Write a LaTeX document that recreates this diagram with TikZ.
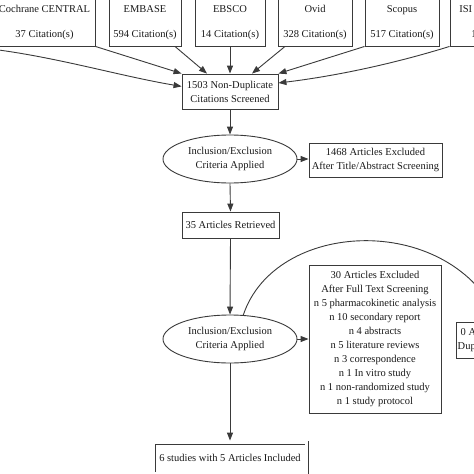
\documentclass[tikz,border=0pt]{standalone}
\usepackage{fontspec}
\setmainfont{Liberation Serif}
\usetikzlibrary{shapes.geometric,arrows.meta,calc}
\definecolor{linec}{HTML}{3A3A3A}
\definecolor{textc}{HTML}{1A1A1A}
\newcommand{\fsz}{\fontsize{10.5}{14}\selectfont}
\tikzset{
  box/.style={draw=linec, line width=0.9pt, rectangle, inner sep=0pt, align=center, font=\fsz, text=textc},
  oval/.style={draw=linec, line width=0.9pt, ellipse, inner sep=0pt, align=center, font=\fsz, text=textc, minimum width=134pt, minimum height=48pt},
  arr/.style={draw=linec, line width=0.9pt, -{Triangle[length=8pt,width=6pt]}},
  lbl/.style={inner sep=0pt, align=left, font=\fsz, text=textc}
}
\begin{document}
\begin{tikzpicture}[x=1pt,y=-1pt]
\useasboundingbox (0,0) rectangle (474,474);
\fill[white] (0,0) rectangle (474,474);
\clip (0,0) rectangle (474,474);
% sources
\node[box, minimum width=101pt, minimum height=47pt] (coch) at (44.5,22.5) {Cochrane CENTRAL\\[11pt]37 Citation(s)};
\node[box, minimum width=72pt, minimum height=47pt] (emb) at (145,22.5) {EMBASE\\[11pt]594 Citation(s)};
\node[box, minimum width=70pt, minimum height=47pt] (ebs) at (230,22.5) {EBSCO\\[11pt]14 Citation(s)};
\node[box, minimum width=74pt, minimum height=47pt] (ovid) at (315,22.5) {Ovid\\[11pt]328 Citation(s)};
\node[box, minimum width=74pt, minimum height=47pt] (scop) at (402,22.5) {Scopus\\[11pt]517 Citation(s)};
\node[box, minimum width=106pt, minimum height=47pt] (isi) at (503,22.5) {ISI - Web of Science\\[11pt]150 Citation(s)};
\coordinate (offl) at (-5,49.5);
% main column
\node[box, minimum width=96pt, minimum height=35pt] (nd) at (230,91.5) {1503 Non-Duplicate\\Citations Screened};
\node[oval] (e1) at (230,159) {Inclusion/Exclusion\\Criteria Applied};
\node[box, minimum width=133pt, minimum height=34pt] (x1) at (375.5,160) {1468 Articles Excluded\\After Title/Abstract Screening};
\node[box, minimum width=97pt, minimum height=26pt] (r35) at (230.5,225) {35 Articles Retrieved};
\node[oval] (e2) at (230,339) {Inclusion/Exclusion\\Criteria Applied};
\node[box, minimum width=132pt, minimum height=148pt] (x2) at (375,339) {30 Articles Excluded\\After Full Text Screening\\n 5 pharmacokinetic analysis\\n 10 secondary report\\n 4 abstracts\\n 5 literature reviews\\n 3 correspondence\\n 1 In vitro study\\n 1 non-randomized study\\n 1 study protocol};
\node[box, double, double distance=2.2pt, minimum width=153pt, minimum height=31pt] (fin) at (230,458) {6 studies with 5 Articles Included};
\node[box, minimum width=88pt, minimum height=36pt] (rb) at (500,340) {};
\node[lbl, anchor=west] (rbt) at (457.5,339.5) {\hspace*{3pt}0 Articles Excluded\\Duplicate Data};
% connectors into 1503 box
\draw[arr] (offl) .. controls (60,58) and (120,76) .. (nd.174);
\draw[arr] (coch.south east) -- (nd.north west);
\draw[arr] ($(emb.south)+(30,0)$) -- ($(nd.north)+(-23,0)$);
\draw[arr] (ebs.south) -- (nd.north);
\draw[arr] ($(ovid.south)+(-30,0)$) -- ($(nd.north)+(22,0)$);
\draw[arr] (scop.south west) -- (nd.north east);
\draw[arr] (isi.south west) .. controls (380,68) and (320,78) .. (nd.10);
% column arrows
\draw[arr] (nd.south) -- (e1.north);
\draw[arr] (e1.east) -- (e1.east -| x1.west);
\draw[arr] (e1.south) -- (r35.north);
\draw[arr] (r35.south) -- (e2.north);
\draw[arr] (e2.east) -- (x2.west);
\draw[arr, shorten >=1.5pt] (e2.south) -- (fin.north);
\draw[arr] (e2.61) .. controls (275,220) and (445,212) .. (rb.north);
\end{tikzpicture}
\end{document}
